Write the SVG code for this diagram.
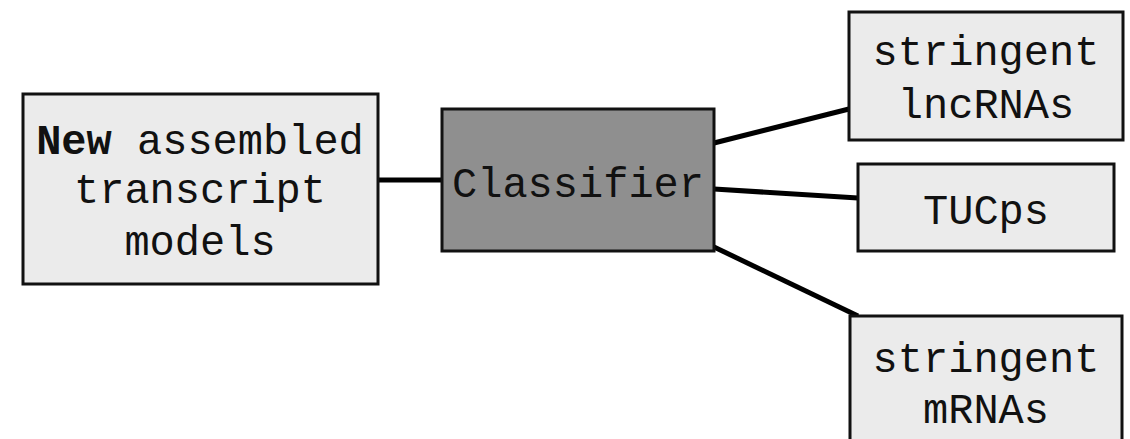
<svg xmlns="http://www.w3.org/2000/svg" width="1130" height="439" viewBox="0 0 1130 439">
<style>
.box{fill:#ebebeb;stroke:#111;stroke-width:3}
.dark{fill:#8f8f8f;stroke:#111;stroke-width:3}
.t{font-family:"Liberation Mono","Courier New",monospace;font-size:42px;fill:#111;text-anchor:middle}
.c{stroke:#000;stroke-width:5;fill:none}
</style>
<rect width="1130" height="439" fill="#fff"/>
<g id="connectors">
<line class="c" x1="378" y1="180" x2="442" y2="180"/>
<line class="c" x1="714" y1="143" x2="849" y2="109"/>
<line class="c" x1="714" y1="189" x2="858" y2="198"/>
<line class="c" x1="714" y1="247" x2="858" y2="316"/>
</g>
<g id="input">
<rect class="box" x="23" y="94" width="355" height="190"/>
<text class="t" x="200" y="154"><tspan font-weight="bold">New</tspan> assembled</text>
<text class="t" x="200" y="203">transcript</text>
<text class="t" x="200" y="255">models</text>
</g>
<g id="classifier">
<rect class="dark" x="442" y="109" width="272" height="142"/>
<text class="t" x="578" y="197">Classifier</text>
</g>
<g id="lncrnas">
<rect class="box" x="849" y="12" width="274" height="128"/>
<text class="t" x="986" y="65">stringent</text>
<text class="t" x="986" y="118">lncRNAs</text>
</g>
<g id="tucps">
<rect class="box" x="858" y="164" width="256" height="87"/>
<text class="t" x="986" y="224">TUCps</text>
</g>
<g id="mrnas">
<rect class="box" x="850" y="316" width="272" height="140"/>
<text class="t" x="986" y="372">stringent</text>
<text class="t" x="986" y="423">mRNAs</text>
</g>
</svg>
